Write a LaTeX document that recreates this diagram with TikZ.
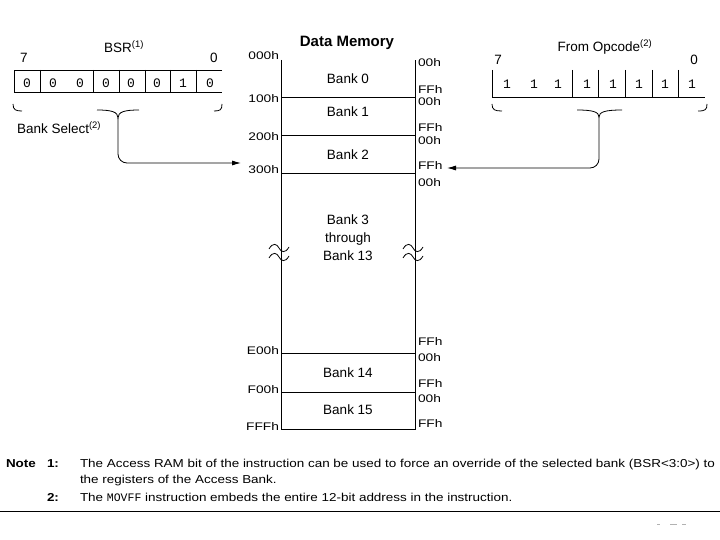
\documentclass[tikz,border=0pt]{standalone}
\usepackage{fontspec}
\setmainfont{Liberation Sans}
\setmonofont{Liberation Mono}
\newfontfamily\widefont{Liberation Sans}[FakeStretch=1.25]
\newfontfamily\notefont{Liberation Sans}[FakeStretch=1.17]
\usetikzlibrary{positioning, arrows, arrows.meta}
\tikzset{
	x=1pt, y=-1pt, % one unit is one pixel of the page, y grows downwards
	every node/.style={inner sep=0pt, outer sep=0pt},
	bitval/.style={font=\ttfamily\fontsize{13}{13}\selectfont},
	reglbl/.style={font=\fontsize{13.5}{14}\selectfont},
	addr/.style={anchor=east, font=\widefont\fontsize{11}{11}\selectfont},
	offs/.style={anchor=west, font=\widefont\fontsize{11}{11}\selectfont},
	banklbl/.style={font=\fontsize{13.5}{14}\selectfont},
	notetext/.style={anchor=base west, font=\notefont\fontsize{11.5}{12}\selectfont},
	notenum/.style={anchor=base west, font=\notefont\bfseries\fontsize{11.5}{12}\selectfont},
	wire/.style={line width=0.8pt},
	feed/.style={line width=0.8pt, -{Latex[length=9pt,width=5pt]}},
}

\begin{document}
\begin{tikzpicture}
	\useasboundingbox (0,0) rectangle (720,540);

	% BSR register
	\draw[wire] (222,70) -- (14,70) -- (14,92) -- (222,92);
	\foreach \x in {40,93,119,145,170,196}
		\draw[wire] (\x,70) -- (\x,92);
	\foreach \x/\v [count=\i] in {27/0,53/0,80/0,106/0,131/0,157/0,183/1,210/0}
		\node[bitval] (bsr\i) at (\x,83) {\v};
	\node[reglbl] (bsrname) at (124,47) {BSR\textsuperscript{(1)}};
	\node[reglbl] (bsrhi) at (24,58) {7};
	\node[reglbl] (bsrlo) at (214,58) {0};
	\draw[wire] (13,104) .. controls (13,110) and (16,111) .. (22,111);
	\draw[wire] (214,111) .. controls (220,111) and (222,110) .. (222,104);
	\coordinate (bsrtip) at (118,118);
	\draw[wire] (97,110) .. controls (112,110) and (118,112) .. (bsrtip)
		.. controls (118,112) and (124,110) .. (139,110);
	\node[reglbl, anchor=west] (banksel) at (17,128) {Bank Select\textsuperscript{(2)}};

	% Opcode field
	\draw[wire] (492,70) -- (492,97) -- (705,97);
	\foreach \x in {572,598,625,652,678}
		\draw[wire] (\x,70) -- (\x,97);
	\foreach \x [count=\i] in {507,534,558,587,613,639,665,692}
		\node[bitval] (opc\i) at (\x,84) {1};
	\node[reglbl] (opcname) at (605,47) {From Opcode\textsuperscript{(2)}};
	\node[reglbl] (opchi) at (498,60) {7};
	\node[reglbl] (opclo) at (694,60) {0};
	\draw[wire] (492,104) .. controls (492,110) and (495,111) .. (502,111);
	\draw[wire] (698,111) .. controls (705,111) and (707,110) .. (707,104);
	\coordinate (opctip) at (599,117);
	\draw[wire] (577,110) .. controls (593,110) and (599,112) .. (opctip)
		.. controls (599,112) and (605,110) .. (622,110);

	% Data memory map
	\node[font=\bfseries\fontsize{15}{15}\selectfont] (title) at (347,43) {Data Memory};
	\draw[wire] (281,60) -- (281,429) -- (415,429) -- (415,60);
	\foreach \y in {97,135,173,353,392}
		\draw[wire] (281,\y) -- (415,\y);
	\foreach \x in {278,412} {
		\draw[wire] (\x-9,249) .. controls (\x-5,242) and (\x-1,244) .. (\x+1,248)
			.. controls (\x+3,252) and (\x+7,254) .. (\x+11,247);
		\draw[wire] (\x-9,258) .. controls (\x-5,251) and (\x-1,253) .. (\x+1,257)
			.. controls (\x+3,261) and (\x+7,263) .. (\x+11,256);
	}
	\foreach \y/\t in {56/000h,99/100h,137/200h,170/300h,351/E00h,390/F00h,427/FFFh}
		\node[addr] (a\t) at (279,\y) {\t};
	\foreach \y/\t [count=\i] in {63/00h,90/FFh,102/00h,128/FFh,141/00h,166/FFh,183/00h,342/FFh,358/00h,384/FFh,399/00h,424/FFh}
		\node[offs] (o\i) at (418,\y) {\t};
	\node[banklbl] (bank0) at (348,79) {Bank 0};
	\node[banklbl] (bank1) at (348,112) {Bank 1};
	\node[banklbl] (bank2) at (348,155) {Bank 2};
	\node[banklbl, align=center, font=\fontsize{13.5}{18}\selectfont] (bank3) at (348,238) {Bank 3\\through\\Bank 13};
	\node[banklbl] (bank14) at (348,373) {Bank 14};
	\node[banklbl] (bank15) at (348,410) {Bank 15};

	% bank select paths into the map
	\coordinate (memleft) at (241,163);
	\coordinate (memright) at (447,168);
	\draw[feed] (bsrtip) -- (118,154) to[out=-90,in=180] (127,163) -- (memleft);
	\draw[feed] (opctip) -- (599,159) to[out=-90,in=0] (590,168) -- (memright);

	% notes
	\node[notenum] (note) at (6,467) {Note};
	\node[notenum] (n1) at (47,467) {1:};
	\node[notetext] (t1) at (80,467) {The Access RAM bit of the instruction can be used to force an override of the selected bank (BSR<3:0>) to};
	\node[notetext] (t1b) at (80,483) {the registers of the Access Bank.};
	\node[notenum] (n2) at (47,501) {2:};
	\node[notetext] (t2) at (80,501) {The \texttt{MOVFF} instruction embeds the entire 12-bit address in the instruction.};
	\draw[wire] (0,511) -- (720,511);
	\draw[gray!60, line width=0.8pt] (657,524) -- (660,524) (670,524) -- (677,524) (682,524) -- (686,524);
\end{tikzpicture}
\end{document}
